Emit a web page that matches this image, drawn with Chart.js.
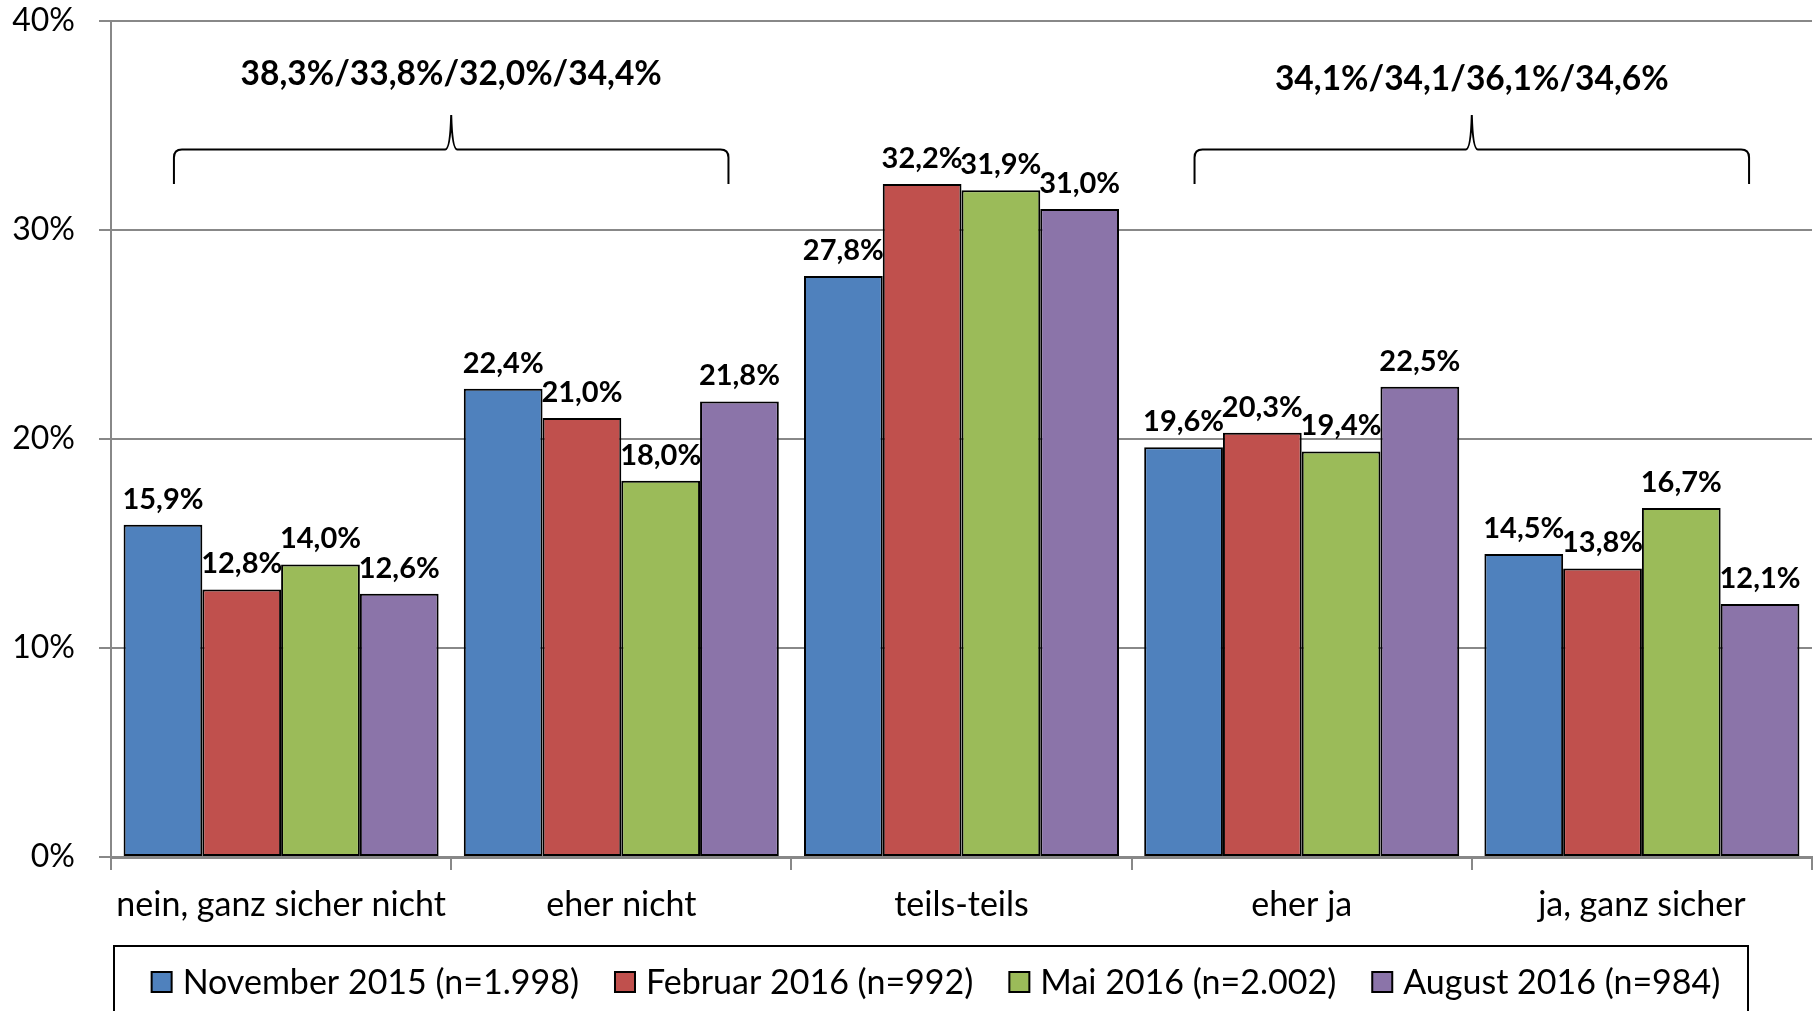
<!DOCTYPE html>
<html>
<head>
<meta charset="utf-8">
<script src="https://cdn.jsdelivr.net/npm/chart.js@4.4.1/dist/chart.umd.min.js"></script>
<style>
  html, body { margin: 0; padding: 0; background: #fff; }
  #wrap { width: 1820px; height: 1011px; }
</style>
</head>
<body>
<div id="wrap"><canvas id="chart" width="1820" height="1011"></canvas></div>
<script>
const categories = ["nein, ganz sicher nicht", "eher nicht", "teils-teils", "eher ja", "ja, ganz sicher"];
const seriesLabels = ["November 2015 (n=1.998)", "Februar 2016 (n=992)", "Mai 2016 (n=2.002)", "August 2016 (n=984)"];
const nov2015 = [15.9, 22.4, 27.8, 19.6, 14.5];
const feb2016 = [12.8, 21.0, 32.2, 20.3, 13.8];
const mai2016 = [14.0, 18.0, 31.9, 19.4, 16.7];
const aug2016 = [12.6, 21.8, 31.0, 22.5, 12.1];
const yTicks = [0, 10, 20, 30, 40];
const braceLabels = ["38,3%/33,8%/32,0%/34,4%", "34,1%/34,1/36,1%/34,6%"];
const braceCenters = [0.5, 3.5]; // between categories

const colors = ["#4F81BD", "#C0504D", "#9BBB59", "#8B74A9"];
const FONT = "Lato, 'Open Sans', sans-serif";

function fmt(v) {
  return v.toFixed(1).replace(".", ",") + "%";
}

// data labels above every bar
const valueLabels = {
  id: "valueLabels",
  afterDatasetsDraw(chart) {
    const ctx = chart.ctx;
    ctx.save();
    ctx.font = "bold 29px " + FONT;
    ctx.fillStyle = "#000";
    ctx.textAlign = "center";
    ctx.textBaseline = "bottom";
    chart.data.datasets.forEach((ds, i) => {
      chart.getDatasetMeta(i).data.forEach((bar, j) => {
        ctx.fillText(fmt(ds.data[j]), bar.x, bar.y - 11);
      });
    });
    ctx.restore();
  },
};

// curly braces with summary text
const braces = {
  id: "braces",
  afterDraw(chart) {
    const ctx = chart.ctx;
    const x = chart.scales.x;
    const y = chart.scales.y;
    const step = x.getPixelForValue(1) - x.getPixelForValue(0);
    ctx.save();
    braceCenters.forEach((c, i) => {
      const cx = x.getPixelForValue(c);
      const half = step * 0.815;
      const l = cx - half;
      const r = cx + half;
      const yh = y.getPixelForValue(33.85);
      const ye = y.getPixelForValue(32.2);
      const yp = y.getPixelForValue(35.5);
      const rad = 8;
      ctx.strokeStyle = "#000";
      ctx.lineWidth = 2;
      ctx.beginPath();
      ctx.moveTo(l, ye);
      ctx.lineTo(l, yh + rad);
      ctx.quadraticCurveTo(l, yh, l + rad, yh);
      ctx.lineTo(cx - 6, yh);
      ctx.quadraticCurveTo(cx - 1, yh, cx, yp);
      ctx.quadraticCurveTo(cx + 1, yh, cx + 6, yh);
      ctx.lineTo(r - rad, yh);
      ctx.quadraticCurveTo(r, yh, r, yh + rad);
      ctx.lineTo(r, ye);
      ctx.stroke();

      ctx.font = "bold 33.5px " + FONT;
      ctx.fillStyle = "#000";
      ctx.textAlign = "center";
      ctx.textBaseline = "middle";
      const ly = y.getPixelForValue(i === 0 ? 37.45 : 37.2);
      ctx.fillText(braceLabels[i], cx, ly);
    });
    ctx.restore();
  },
};

// framed legend at the bottom
const boxLegend = {
  id: "boxLegend",
  afterDraw(chart) {
    const ctx = chart.ctx;
    const boxL = 114, boxR = 1748, boxT = 946, boxB = 1030;
    const sw = 20, gapText = 11, gapItem = 36, cy = 982;
    ctx.save();
    ctx.strokeStyle = "#000";
    ctx.lineWidth = 2;
    ctx.strokeRect(boxL, boxT, boxR - boxL, boxB - boxT);
    ctx.font = "34px " + FONT;
    const widths = seriesLabels.map((t) => ctx.measureText(t).width);
    let total = widths.reduce((a, b) => a + b, 0) + seriesLabels.length * (sw + gapText) + (seriesLabels.length - 1) * gapItem;
    let xPos = (boxL + boxR) / 2 - total / 2 + 5;
    ctx.textBaseline = "middle";
    ctx.textAlign = "left";
    seriesLabels.forEach((t, i) => {
      ctx.fillStyle = colors[i];
      ctx.fillRect(xPos, cy - sw / 2, sw, sw);
      ctx.lineWidth = 2;
      ctx.strokeStyle = "#000";
      ctx.strokeRect(xPos, cy - sw / 2, sw, sw);
      ctx.fillStyle = "#000";
      ctx.fillText(t, xPos + sw + gapText, cy + 1);
      xPos += sw + gapText + widths[i] + gapItem;
    });
    ctx.restore();
  },
};

const ctx = document.getElementById("chart").getContext("2d");
const datasets = [nov2015, feb2016, mai2016, aug2016].map((d, i) => ({
  label: seriesLabels[i],
  data: d,
  backgroundColor: colors[i],
  borderColor: "#000",
  borderWidth: 2,
  borderSkipped: false,
  barPercentage: 1.0,
  categoryPercentage: 0.926,
}));

const myChart = new Chart(ctx, {
  type: "bar",
  data: { labels: categories, datasets: datasets },
  options: {
    responsive: false,
    animation: false,
    layout: { padding: { top: 21, right: 8, bottom: 80, left: 0 } },
    plugins: {
      legend: { display: false },
      tooltip: { enabled: false },
    },
    scales: {
      x: {
        grid: {
          offset: true,
          drawOnChartArea: false,
          drawTicks: true,
          tickLength: 13,
          color: "#888",
          lineWidth: 2,
        },
        border: { color: "#888", width: 3 },
        ticks: {
          color: "#000",
          padding: 15,
          font: { family: FONT, size: 34 },
        },
        afterFit(scale) {
          scale.height = 74;
          scale.paddingLeft = 0;
          scale.paddingRight = 0;
        },
      },
      y: {
        min: 0,
        max: 40,
        afterBuildTicks(scale) {
          scale.ticks = yTicks.map((v) => ({ value: v }));
        },
        grid: {
          color: "#888",
          lineWidth: 2,
          tickLength: 12,
        },
        border: { color: "#888", width: 2 },
        ticks: {
          color: "#000",
          padding: 24,
          font: { family: FONT, size: 32 },
          callback: (v) => v + "%",
        },
        afterFit(scale) {
          scale.width = 111;
          scale.paddingTop = 0;
          scale.paddingBottom = 0;
        },
      },
    },
  },
  plugins: [valueLabels, braces, boxLegend],
});
</script>
</body>
</html>
